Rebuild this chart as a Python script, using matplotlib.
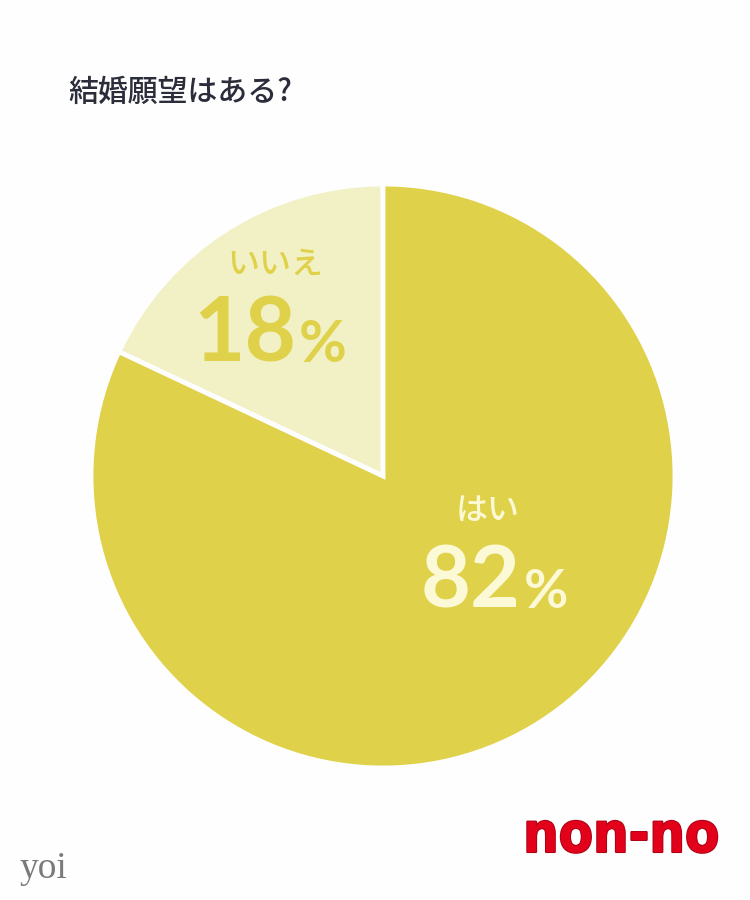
import matplotlib.pyplot as plt
import matplotlib.patheffects as pe

# data
labels = ['いいえ', 'はい']
values = [18, 82]
colors = ['#F2F0C5', '#E0D14A']
text_colors = ['#E0D14A', '#FCF9D6']
title = '結婚願望はある?'

plt.rcParams['font.family'] = ['Noto Sans CJK JP', 'DejaVu Sans']

fig = plt.figure(figsize=(7.5, 9), dpi=100)
fig.patch.set_facecolor('#FEFEFE')

# pie axes: centre (383, 476) px, radius 292 px
W, H = 750, 900
cx, cy, r = 383, 476, 292
ax = fig.add_axes([(cx - r) / W, 1 - (cy + r) / H, 2 * r / W, 2 * r / H])
ax.pie(values, colors=colors, startangle=90, counterclock=True,
       wedgeprops=dict(edgecolor='#FEFEFE', linewidth=3.5))
ax.set_aspect('equal')
ax.set_xlim(-1, 1)
ax.set_ylim(-1, 1)

def px(x, y):
    return x / W, 1 - y / H

# labels inside wedges
lab_pos = [(275, 265), (488, 511)]
num_pos = [(296, 362), (521, 608)]
num_size = [64, 62]
pct_size = [42, 39]
for i in range(len(values)):
    tc = text_colors[i]
    fig.text(*px(*lab_pos[i]), labels[i], color=tc, fontsize=23,
             fontweight='medium', ha='center', va='center')
    fig.text(*px(*num_pos[i]), str(values[i]), color=tc, fontsize=num_size[i],
             fontweight='bold', family='Lato', ha='right', va='baseline')
    fig.text(*px(num_pos[i][0] + 3, num_pos[i][1]), '%', color=tc,
             fontsize=pct_size[i], fontweight='bold', family='Lato',
             ha='left', va='baseline')

# title
fig.text(*px(68, 92), title, color='#2B2D3A', fontsize=21.5, fontweight='medium',
         ha='left', va='center')

# brand marks
fig.text(*px(621, 837), 'non-no', color='#E3001B', fontsize=40,
         fontweight='heavy', family='DejaVu Sans', fontstretch='condensed',
         ha='center', va='center',
         path_effects=[pe.withStroke(linewidth=1.5, foreground='#B00012')])
fig.text(*px(20, 878), 'yoi', color='#7A7A7A', fontsize=27,
         family='Liberation Serif', ha='left', va='baseline')

fig.savefig('out.png', dpi=100, facecolor=fig.get_facecolor())
